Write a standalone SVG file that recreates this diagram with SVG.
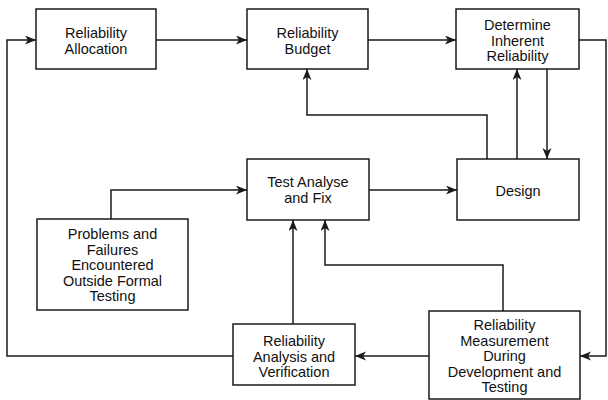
<svg xmlns="http://www.w3.org/2000/svg" width="608" height="400" viewBox="0 0 608 400">
<style>
.box{fill:#fff;stroke:#1a1a1a;stroke-width:1.5}
.ln{fill:none;stroke:#1a1a1a;stroke-width:1.5;stroke-linejoin:miter}
.ar{marker-end:url(#ah)}
text{font-family:"Liberation Sans",Arial,sans-serif;font-size:14.5px;fill:#111;text-anchor:middle}
</style>
<defs>
<marker id="ah" markerUnits="userSpaceOnUse" markerWidth="12" markerHeight="10" refX="11" refY="4.5" orient="auto">
<path d="M0,0 L11,4.5 L0,9 L3,4.5 z" fill="#1a1a1a"/>
</marker>
</defs>
<rect width="608" height="400" fill="#fff"/>
<g id="connectors">
<path class="ln ar" d="M233,356 H7 V40 H36"/>
<path class="ln ar" d="M156,40 H247"/>
<path class="ln ar" d="M368,40 H456"/>
<path class="ln ar" d="M579,40 H606 V356 H580"/>
<path class="ln ar" d="M487,159 V115 H307 V69"/>
<path class="ln ar" d="M517,159 V69"/>
<path class="ln ar" d="M547,69 V159"/>
<path class="ln ar" d="M369,190 H457"/>
<path class="ln ar" d="M111,219 V190 H247"/>
<path class="ln ar" d="M293,324 V220"/>
<path class="ln ar" d="M503,311 V265 H325 V220"/>
<path class="ln ar" d="M429,356 H355"/>
</g>
<g id="reliability-allocation">
<rect class="box" x="36" y="9" width="120" height="60"/>
<text x="96" y="38">Reliability</text>
<text x="96" y="53.5">Allocation</text>
</g>
<g id="reliability-budget">
<rect class="box" x="247" y="9" width="121" height="60"/>
<text x="307.5" y="38">Reliability</text>
<text x="307.5" y="53.5">Budget</text>
</g>
<g id="determine-inherent-reliability">
<rect class="box" x="456" y="9" width="123" height="60"/>
<text x="517.5" y="30">Determine</text>
<text x="517.5" y="45.5">Inherent</text>
<text x="517.5" y="61">Reliability</text>
</g>
<g id="test-analyse-fix">
<rect class="box" x="247" y="159" width="122" height="61"/>
<text x="308" y="187">Test Analyse</text>
<text x="308" y="202.5">and Fix</text>
</g>
<g id="design">
<rect class="box" x="457" y="159" width="122" height="61"/>
<text x="518" y="196">Design</text>
</g>
<g id="problems-failures">
<rect class="box" x="37" y="219" width="151" height="91"/>
<text x="112.5" y="239">Problems and</text>
<text x="112.5" y="254.6">Failures</text>
<text x="112.5" y="270.2">Encountered</text>
<text x="112.5" y="285.8">Outside Formal</text>
<text x="112.5" y="301.4">Testing</text>
</g>
<g id="reliability-analysis-verification">
<rect class="box" x="233" y="324" width="122" height="61"/>
<text x="294" y="346">Reliability</text>
<text x="294" y="361.5">Analysis and</text>
<text x="294" y="377">Verification</text>
</g>
<g id="reliability-measurement">
<rect class="box" x="429" y="311" width="151" height="88"/>
<text x="504.5" y="330">Reliability</text>
<text x="504.5" y="345.6">Measurement</text>
<text x="504.5" y="361.2">During</text>
<text x="504.5" y="376.8">Development and</text>
<text x="504.5" y="392.4">Testing</text>
</g>
</svg>
